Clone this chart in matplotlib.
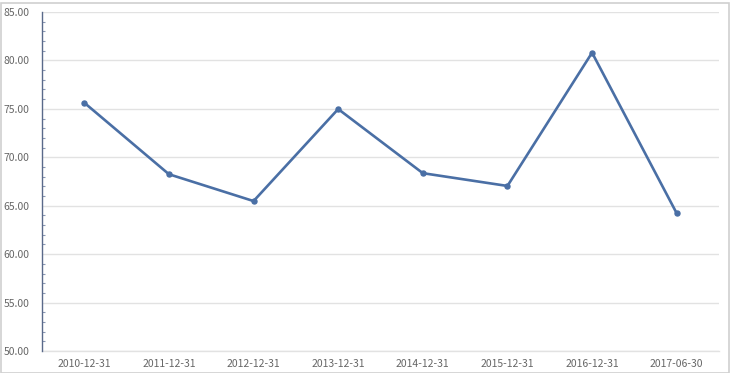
import matplotlib
matplotlib.use("Agg")
import matplotlib.pyplot as plt
from matplotlib.patches import Rectangle
from matplotlib.ticker import MultipleLocator, FormatStrFormatter

plt.rcParams['font.family'] = ['Noto Sans CJK SC', 'DejaVu Sans']

categories = ["2010-12-31", "2011-12-31", "2012-12-31", "2013-12-31",
              "2014-12-31", "2015-12-31", "2016-12-31", "2017-06-30"]
values = [75.63, 68.25, 65.48, 74.98, 68.36, 67.04, 80.80, 64.22]
y_ticks = [50, 55, 60, 65, 70, 75, 80, 85]

W, H = 730, 373
fig = plt.figure(figsize=(W / 100, H / 100), dpi=100)
fig.patches.append(Rectangle((0.5 / W, 0.5 / H), 1 - 2 / W, 1 - 3 / H, transform=fig.transFigure,
                             fill=False, edgecolor='#d0d0d0', linewidth=1.2))

left, right, top, bottom = 42, 719, 12, 351
ax = fig.add_axes([left / W, 1 - bottom / H, (right - left) / W, (bottom - top) / H])

x = list(range(len(categories)))
ax.plot(x, values, color='#4a6fa5', linewidth=1.9, marker='o', markersize=3.6,
        markerfacecolor='#4a6fa5', markeredgecolor='#4a6fa5', zorder=3)

ax.set_xlim(-0.5, len(categories) - 0.5)
ax.set_ylim(50, 85)
ax.set_yticks(y_ticks)
ax.yaxis.set_major_formatter(FormatStrFormatter('%.2f'))
ax.yaxis.set_minor_locator(MultipleLocator(1))
ax.set_xticks(x)
ax.set_xticklabels(categories)

ax.grid(axis='y', which='major', color='#e2e2e2', linewidth=1.0)
ax.set_axisbelow(True)
for s in ['top', 'right']:
    ax.spines[s].set_visible(False)
ax.spines['bottom'].set_color('#e2e2e2')
ax.spines['bottom'].set_linewidth(1.0)
ax.spines['left'].set_color('#5a6a8a')
ax.spines['left'].set_linewidth(1.0)
ax.spines['left'].set_zorder(4)

ax.tick_params(axis='y', which='major', direction='in', length=0, pad=9,
               labelsize=7.5, labelcolor='#666666')
ax.tick_params(axis='y', which='minor', direction='in', length=2.5, width=0.8,
               color='#8a98b4')
ax.tick_params(axis='x', length=0, pad=6, labelsize=7.5, labelcolor='#666666')

fig.savefig("out.png", dpi=100)
